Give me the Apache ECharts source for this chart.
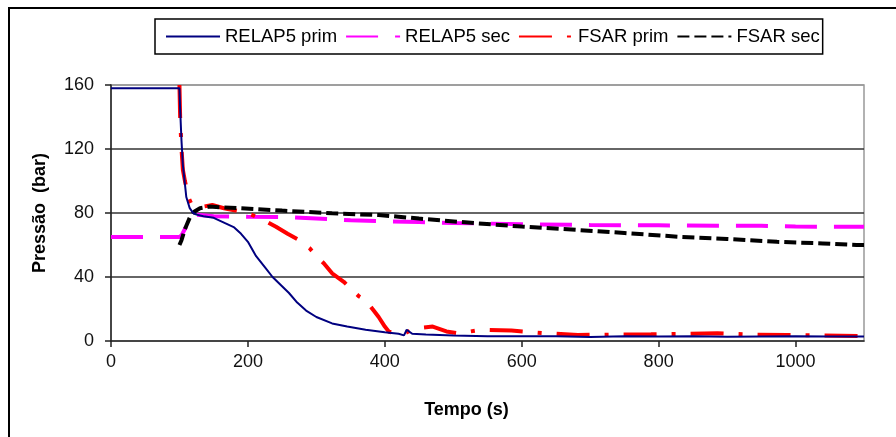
<!DOCTYPE html>
<html>
<head>
<meta charset="utf-8">
<script src="https://cdn.jsdelivr.net/npm/echarts@6/dist/echarts.min.js"></script>
<style>
  html, body { margin: 0; padding: 0; background: #fff; }
  #main { width: 896px; height: 437px; }
</style>
</head>
<body>
<div id="main"></div>
<script>
// tempo (s) e pressão (bar)
var xTicks = [0, 200, 400, 600, 800, 1000];
var yTicks = [0, 40, 80, 120, 160];

var relapPrimT = [0, 100, 101, 103, 105, 108, 110, 115, 120, 125, 135, 150, 165, 180, 190, 200, 212, 225, 236, 248, 260, 272, 285, 300, 323, 345, 372, 400, 420, 428, 432, 440, 460, 500, 550, 600, 650, 700, 750, 800, 850, 900, 950, 1000, 1050, 1100];
var relapPrimP = [158, 158, 145, 125, 110, 98, 90, 83, 80, 79, 78, 77, 74, 71, 67, 62, 53, 46, 40, 35, 30, 24, 19, 15, 11, 9, 7, 5.5, 4.5, 3.5, 7, 4.5, 4, 3.5, 3, 3, 3, 2.5, 3, 2.8, 3, 2.6, 2.8, 3, 2.8, 2.8];

var relapSecT = [0, 100, 103, 108, 115, 125, 150, 200, 250, 300, 350, 400, 450, 500, 600, 700, 800, 900, 950, 1000, 1050, 1100];
var relapSecP = [65, 65, 66, 70, 76, 79, 78, 77.7, 77.5, 76.5, 75.5, 74.8, 74.3, 73.8, 73, 72.5, 72.3, 72, 72, 71.5, 71.4, 71.4];

var fsarPrimT = [100, 101, 103, 105, 108, 110, 113, 117, 125, 135, 148, 165, 188, 205, 217, 230, 241, 258, 275, 290, 299, 312, 323, 340, 352, 362, 372, 382, 391, 400, 406, 415, 430, 445, 470, 490, 508, 540, 585, 630, 682, 740, 789, 840, 886, 940, 988, 1040, 1100];
var fsarPrimP = [160, 140, 120, 107, 100, 96, 90, 86, 84, 84, 85, 83, 81, 79, 76.7, 74, 71.4, 67, 63, 58, 53.7, 48, 42.3, 37, 32, 28, 25.6, 20, 15, 9, 5.8, 5, 5, 8, 9, 6, 4.8, 7, 6.5, 5, 3.8, 4, 4.2, 4.5, 4.8, 4, 3.8, 3.5, 3.1];

var fsarSecT = [100, 103, 108, 115, 122, 130, 144, 165, 188, 250, 323, 391, 420, 450, 537, 600, 682, 750, 828, 900, 973, 1040, 1089, 1100];
var fsarSecP = [60, 63, 70, 77, 81, 83, 84, 83.5, 83, 81.5, 79.8, 78.7, 77.7, 76.5, 73.5, 71.5, 69.4, 67.5, 65.2, 63.8, 62, 61, 60, 60];

function pairs(t, p) {
  return t.map(function (v, i) { return [v, p[i]]; });
}

var font = 'Liberation Sans, Arial, sans-serif';

var option = {
  backgroundColor: '#fff',
  animation: false,
  textStyle: { fontFamily: font },
  graphic: [{
    type: 'rect',
    z: -1,
    shape: { x: 9, y: 8, width: 1000, height: 1000 },
    style: { fill: 'none', stroke: '#000', lineWidth: 2 }
  }],
  legend: {
    left: 155,
    top: 19,
    padding: [8, 3, 8, 10],
    itemGap: 8,
    itemWidth: 54,
    itemHeight: 14,
    borderColor: '#000',
    borderWidth: 1.5,
    itemStyle: { opacity: 0 },
    textStyle: { fontSize: 18.5, color: '#000', fontFamily: font },
    data: ['RELAP5 prim', 'RELAP5 sec', 'FSAR prim', 'FSAR sec']
  },
  grid: {
    left: 111,
    right: 32,
    top: 85,
    bottom: 96,
    show: true,
    borderColor: '#999',
    borderWidth: 1.5
  },
  xAxis: {
    type: 'value',
    min: 0,
    max: 1100,
    interval: 200,
    name: 'Tempo (s)',
    nameLocation: 'middle',
    nameGap: 60,
    nameTextStyle: { fontSize: 18, fontWeight: 'bold', color: '#000', padding: [0, 42, 0, 0] },
    axisLine: { lineStyle: { color: '#222', width: 1.5 } },
    axisTick: { show: true, inside: false, length: 6, lineStyle: { color: '#222', width: 1.5 }, customValues: xTicks },
    axisLabel: {
      fontSize: 18, color: '#111', margin: 12, customValues: xTicks,
      formatter: function (v) { return String(v); }
    },
    splitLine: { show: false }
  },
  yAxis: {
    type: 'value',
    min: 0,
    max: 160,
    interval: 40,
    name: 'Pressão  (bar)',
    nameLocation: 'middle',
    nameRotate: 90,
    nameGap: 62,
    nameTextStyle: { fontSize: 18, fontWeight: 'bold', color: '#000' },
    axisLine: { show: true, lineStyle: { color: '#222', width: 1.5 } },
    axisTick: { show: true, inside: false, length: 6, lineStyle: { color: '#222', width: 1.5 }, customValues: yTicks },
    axisLabel: { fontSize: 18, color: '#111', margin: 17, customValues: yTicks },
    splitLine: { show: true, lineStyle: { color: ['transparent', '#333', '#333', '#333', '#999'], width: 1.5 } }
  },
  series: [
    {
      name: 'RELAP5 prim',
      type: 'line',
      symbol: 'none',
      z: 5,
      lineStyle: { color: '#000080', width: 2 },
      itemStyle: { color: '#000080' },
      data: pairs(relapPrimT, relapPrimP)
    },
    {
      name: 'RELAP5 sec',
      type: 'line',
      symbol: 'none',
      z: 3,
      lineStyle: { color: '#ff00ff', width: 4, type: [32, 17] },
      itemStyle: { color: '#ff00ff' },
      data: pairs(relapSecT, relapSecP)
    },
    {
      name: 'FSAR prim',
      type: 'line',
      symbol: 'none',
      z: 4,
      lineStyle: { color: '#ff0000', width: 4, type: [33, 15, 4, 15] },
      itemStyle: { color: '#ff0000' },
      data: pairs(fsarPrimT, fsarPrimP)
    },
    {
      name: 'FSAR sec',
      type: 'line',
      symbol: 'none',
      z: 4,
      lineStyle: { color: '#000', width: 4, type: [12, 5] },
      itemStyle: { color: '#000' },
      data: pairs(fsarSecT, fsarSecP)
    }
  ]
};

var chart = echarts.init(document.getElementById('main'));
chart.setOption(option);
</script>
</body>
</html>
